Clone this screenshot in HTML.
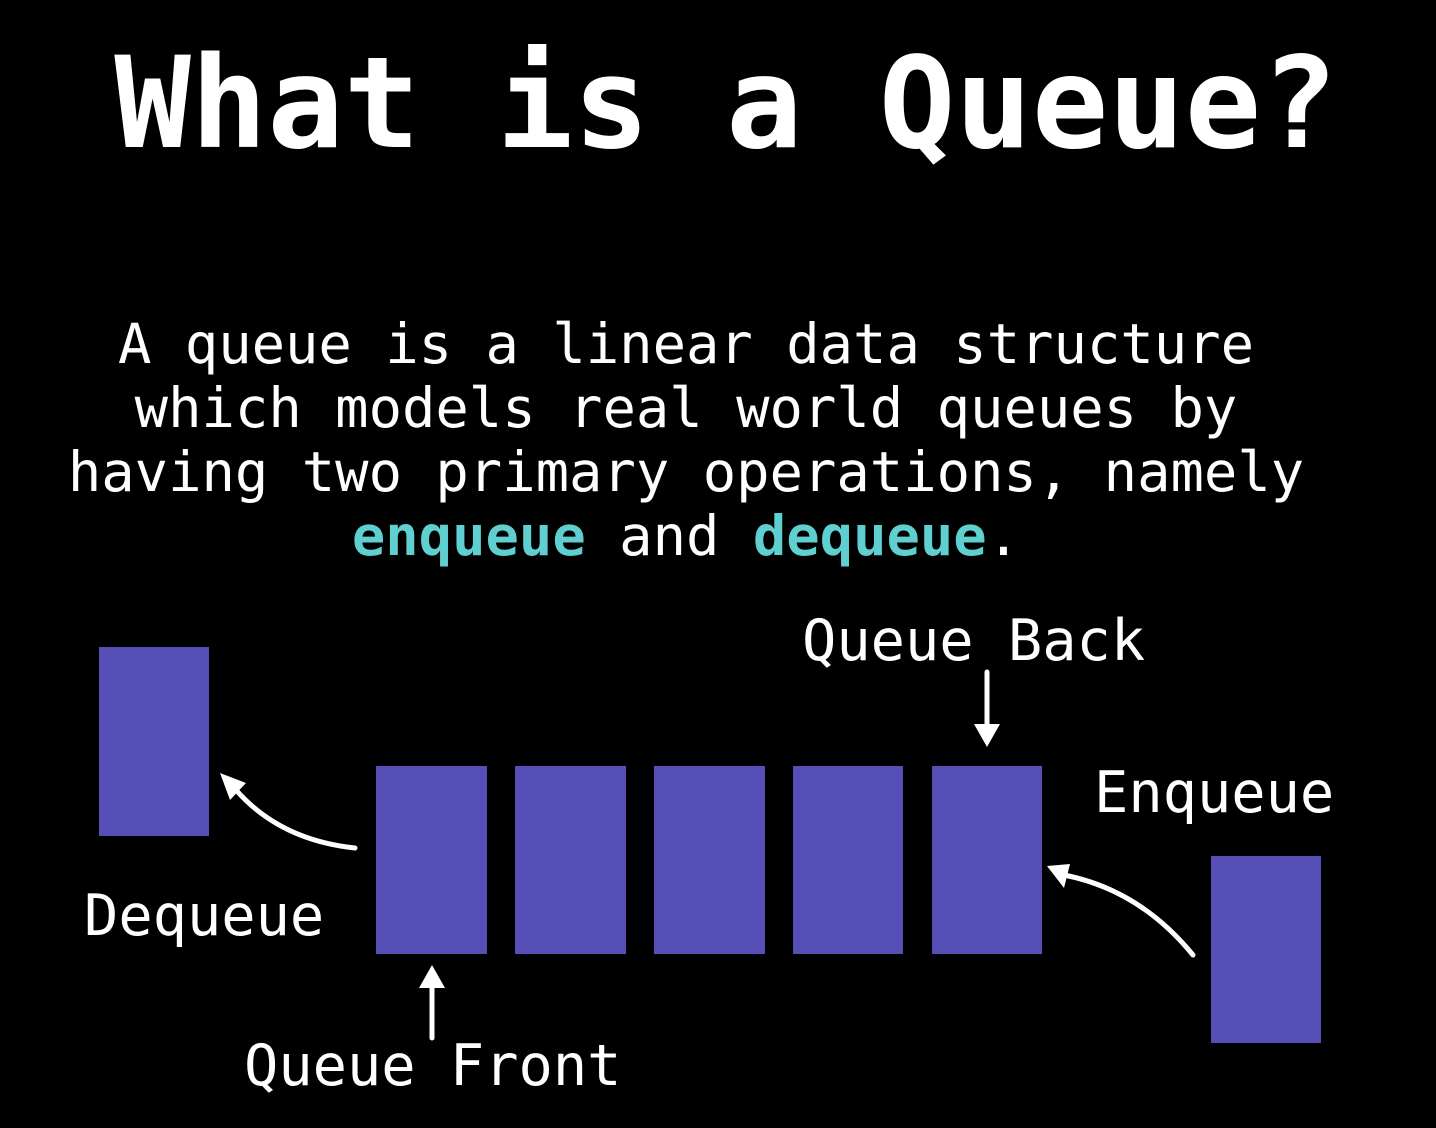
<!DOCTYPE html>
<html><head><style>
body{margin:0;background:#000;width:1436px;height:1128px;overflow:hidden;position:relative;font-family:"DejaVu Sans Mono","Liberation Mono",monospace;color:#fff}
.t{position:absolute;white-space:pre;line-height:1}
.b{position:absolute;background:#5650b6}
.c{color:#5fcfd0;font-weight:bold}
</style></head><body>
<div class="t" style="left:8px;width:1436px;text-align:center;top:40px;font-size:127px;font-weight:bold">What is a Queue?</div>
<div class="t" style="left:0;width:1372px;text-align:center;top:313px;font-size:55.5px;line-height:64px">A queue is a linear data structure
which models real world queues by
having two primary operations, namely
<span class="c">enqueue</span> and <span class="c">dequeue</span>.</div>
<div class="b" style="left:99px;top:647px;width:110px;height:189px"></div>
<div class="b" style="left:376px;top:766px;width:111px;height:188px"></div>
<div class="b" style="left:515px;top:766px;width:111px;height:188px"></div>
<div class="b" style="left:654px;top:766px;width:111px;height:188px"></div>
<div class="b" style="left:793px;top:766px;width:110px;height:188px"></div>
<div class="b" style="left:932px;top:766px;width:110px;height:188px"></div>
<div class="b" style="left:1211px;top:856px;width:110px;height:187px"></div>
<div class="t" style="left:802px;top:613px;font-size:57px">Queue Back</div>
<div class="t" style="left:1094px;top:765px;font-size:57px">Enqueue</div>
<div class="t" style="left:84px;top:888px;font-size:57px">Dequeue</div>
<div class="t" style="left:244px;top:1038px;font-size:57px">Queue Front</div>
<svg width="1436" height="1128" style="position:absolute;left:0;top:0">
<g stroke="#fff" stroke-width="5" fill="none" stroke-linecap="round">
<line x1="987" y1="672" x2="987" y2="730"/>
<line x1="432" y1="1038" x2="432" y2="982"/>
<path d="M355 848 Q280 840 236 790"/>
<path d="M1193 955 Q1140 890 1064 875"/>
</g>
<g fill="#fff">
<polygon points="974,724 1000,724 987,747"/>
<polygon points="419,988 445,988 432,965"/>
<polygon points="220,773 246,783 230,800"/>
<polygon points="1047,866 1070,864 1064,888"/>
</g>
</svg>
</body></html>
